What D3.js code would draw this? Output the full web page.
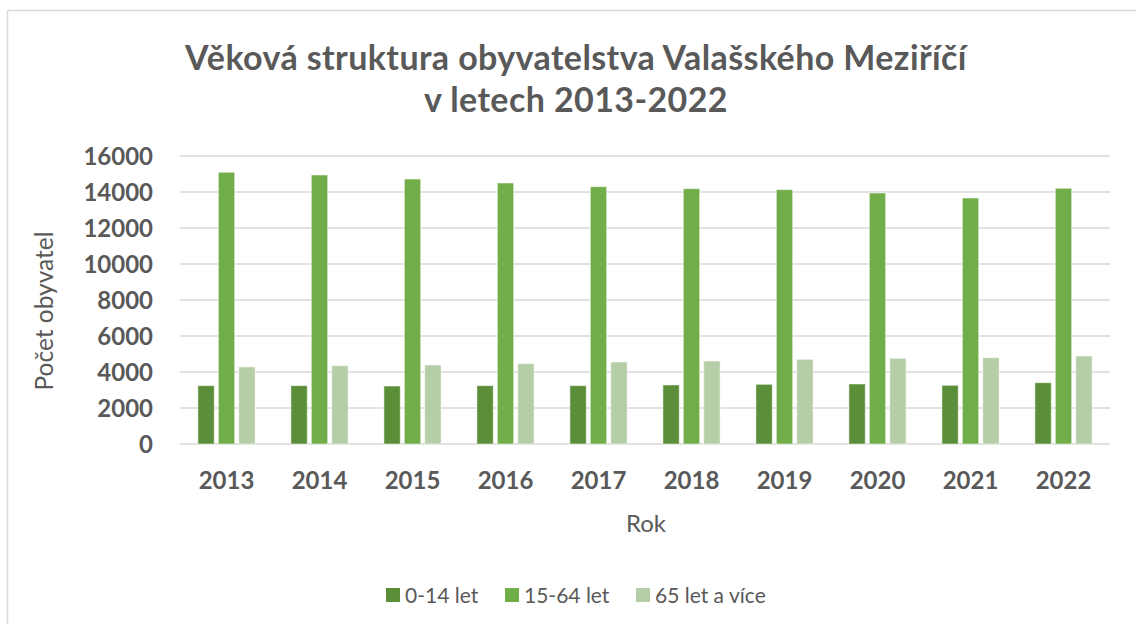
<!DOCTYPE html>
<html>
<head>
<meta charset="utf-8">
<script src="https://cdn.jsdelivr.net/npm/d3@7"></script>
<style>
  body { margin: 0; background: #fff; }
  text { font-family: Lato, "Open Sans", sans-serif; fill: #595959; }
</style>
</head>
<body>
<div id="chart-area"></div>
<script>
const years = ["2013", "2014", "2015", "2016", "2017", "2018", "2019", "2020", "2021", "2022"];
const seriesNames = ["0-14 let", "15-64 let", "65 let a více"];
const kids = [3240, 3240, 3220, 3240, 3240, 3280, 3315, 3335, 3260, 3405];
const working = [15095, 14945, 14720, 14500, 14295, 14185, 14130, 13945, 13665, 14205];
const seniors = [4280, 4350, 4390, 4465, 4555, 4610, 4705, 4760, 4795, 4890];
const yTicks = [0, 2000, 4000, 6000, 8000, 10000, 12000, 14000, 16000];
const colors = ["#5b8e39", "#71ad48", "#b5cea7"];

const values = [kids, working, seniors];
const data = years.map((y, i) => ({
  year: y,
  vals: seriesNames.map((s, j) => ({ name: s, value: values[j][i], idx: j }))
}));

const svgWidth = 1136;
const svgHeight = 624;
const svg = d3.select("#chart-area")
              .append("svg")
              .attr("width", svgWidth)
              .attr("height", svgHeight);

// chart frame
svg.append("rect")
   .attr("x", 7.5).attr("y", 10.5)
   .attr("width", 1200).attr("height", 700)
   .attr("fill", "#fff")
   .attr("stroke", "#d9d9d9")
   .attr("stroke-width", 1.5);

const margin = { top: 156, left: 180 };
const chartWidth = 930;
const chartHeight = 288;

const x = d3.scaleBand()
            .domain(years)
            .range([0, chartWidth])
            .paddingInner(0.385)
            .paddingOuter(0.1925);

const xInner = d3.scaleBand()
                 .domain(seriesNames)
                 .range([0, x.bandwidth()])
                 .paddingInner(0.2);

const y = d3.scaleLinear()
            .domain([0, 16000])
            .range([chartHeight, 0]);

const color = d3.scaleOrdinal()
                .domain(seriesNames)
                .range(colors);

const g = svg.append("g")
             .attr("transform", `translate(${margin.left},${margin.top})`);

// gridlines
g.selectAll("line.grid")
 .data(yTicks)
 .enter()
 .append("line")
 .attr("class", "grid")
 .attr("x1", 0).attr("x2", chartWidth)
 .attr("y1", d => y(d)).attr("y2", d => y(d))
 .attr("stroke", "#d9d9d9")
 .attr("stroke-width", 1.5);

// y tick labels
g.selectAll("text.ytick")
 .data(yTicks)
 .enter()
 .append("text")
 .attr("class", "ytick")
 .attr("x", -27)
 .attr("y", d => y(d))
 .attr("dy", "0.36em")
 .attr("text-anchor", "end")
 .style("font-size", "24px")
 .style("font-weight", "bold")
 .text(d => d);

// bars
const groups = g.selectAll("g.year")
                .data(data)
                .enter()
                .append("g")
                .attr("class", "year")
                .attr("transform", d => `translate(${x(d.year)},0)`);

groups.selectAll("rect")
      .data(d => d.vals)
      .enter()
      .append("rect")
      .attr("x", d => xInner(d.name))
      .attr("y", d => y(d.value))
      .attr("width", xInner.bandwidth())
      .attr("height", d => chartHeight - y(d.value))
      .attr("fill", d => color(d.name))
      .attr("stroke", "#fff")
      .attr("stroke-opacity", 0.5)
      .attr("stroke-width", 1);

// x labels
g.selectAll("text.xtick")
 .data(years)
 .enter()
 .append("text")
 .attr("class", "xtick")
 .attr("x", d => x(d) + x.bandwidth() / 2)
 .attr("y", chartHeight + 45)
 .attr("text-anchor", "middle")
 .style("font-size", "24px")
 .style("font-weight", "bold")
 .text(d => d);

// axis titles
svg.append("text")
   .attr("x", 646).attr("y", 532)
   .attr("text-anchor", "middle")
   .style("font-size", "24px")
   .text("Rok");

svg.append("text")
   .attr("transform", "translate(53,311) rotate(-90)")
   .attr("text-anchor", "middle")
   .style("font-size", "24.5px")
   .text("Počet obyvatel");

// title
const title = svg.append("text")
                 .attr("text-anchor", "middle")
                 .style("font-size", "34px")
                 .style("letter-spacing", "0.4px")
                 .style("font-weight", "bold");
title.append("tspan").attr("x", 576).attr("y", 70)
     .text("Věková struktura obyvatelstva Valašského Meziříčí");
title.append("tspan").attr("x", 576).attr("y", 112)
     .text("v letech 2013-2022");

// legend
const legendX = [386, 505, 636];
const legend = svg.selectAll("g.legend")
                  .data(seriesNames)
                  .enter()
                  .append("g")
                  .attr("class", "legend")
                  .attr("transform", (d, i) => `translate(${legendX[i]},588)`);

legend.append("rect")
      .attr("width", 14).attr("height", 14)
      .attr("fill", d => color(d));

legend.append("text")
      .attr("x", 19).attr("y", 14.5)
      .style("font-size", "21px")
      .text(d => d);
</script>
</body>
</html>
